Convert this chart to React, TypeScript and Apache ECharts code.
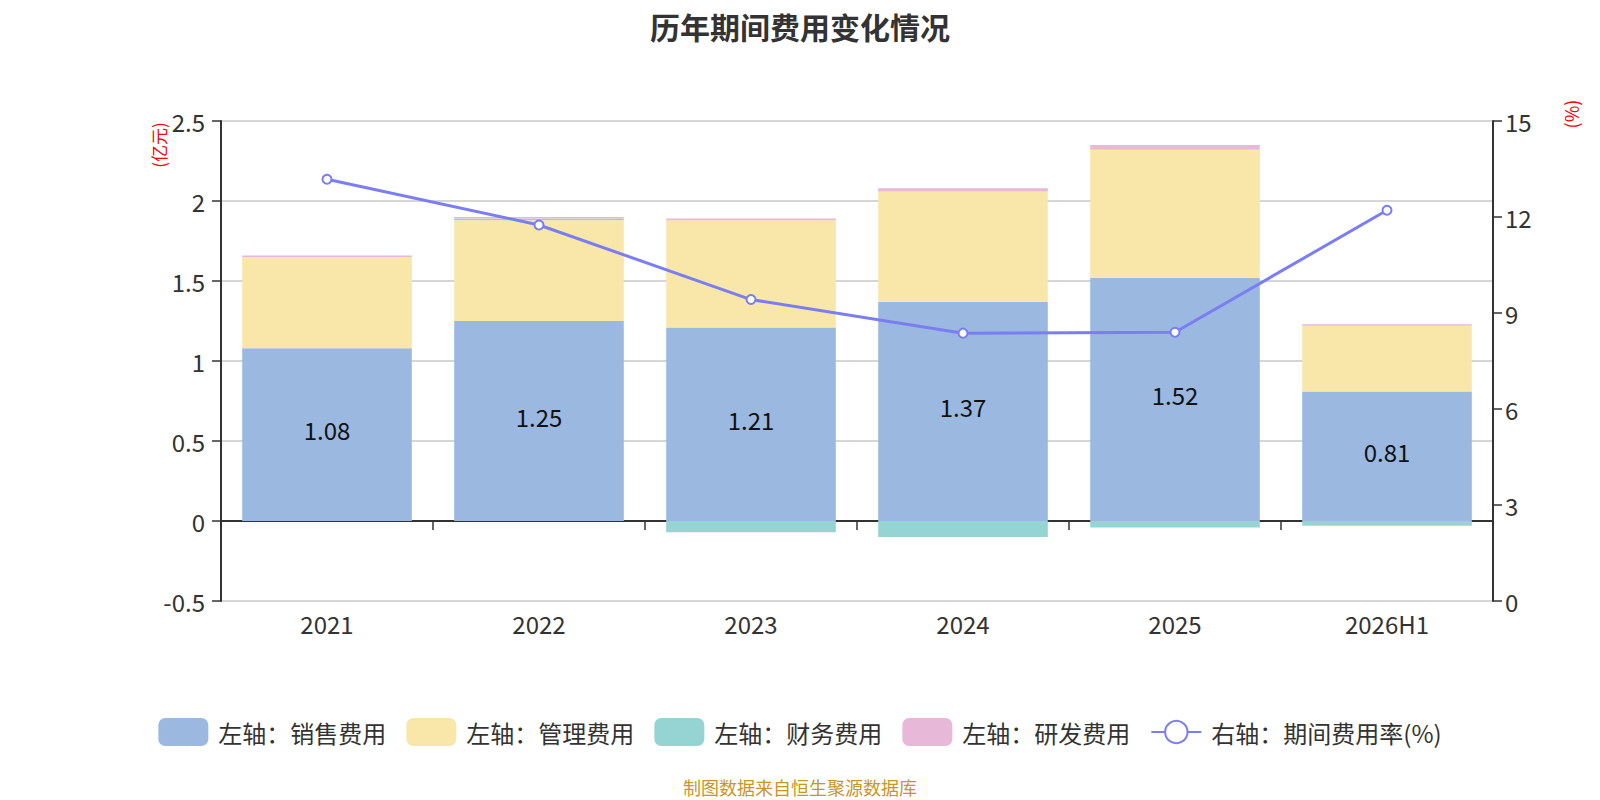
import React, { useEffect, useRef } from "react";
import * as echarts from "echarts";

const categories = ["2021", "2022", "2023", "2024", "2025", "2026H1"];
const salesExp = [1.08, 1.25, 1.21, 1.37, 1.52, 0.81];
const mgmtExp = [0.57, 0.63, 0.67, 0.69, 0.8, 0.41];
const finExp = [0.0, 0.01, -0.07, -0.1, -0.04, -0.03];
const rdExp = [0.01, 0.01, 0.01, 0.02, 0.03, 0.01];
const expenseRate = [13.18, 11.75, 9.42, 8.37, 8.4, 12.21];

const FONT = '"Noto Sans CJK SC", "Noto Sans", sans-serif';

export default function App() {
  const ref = useRef<HTMLDivElement>(null);
  useEffect(() => {
    document.body.style.margin = "0";
    if (!ref.current) return;
    const chart = echarts.init(ref.current, undefined, { renderer: "svg" });
    const barLabel = {
      show: true,
      position: "inside",
      offset: [0, -5],
      color: "#111",
      fontSize: 24,
      fontFamily: FONT,
    };
    chart.setOption({
      animation: false,
      textStyle: { fontFamily: FONT },
      title: {
        text: "历年期间费用变化情况",
        left: "center",
        top: 6,
        textStyle: { fontSize: 30, fontWeight: "bold", color: "#333", fontFamily: FONT },
      },
      grid: { left: 221, right: 107, top: 121, bottom: 199 },
      legend: {
        bottom: 49,
        left: "center",
        itemWidth: 50,
        itemHeight: 28,
        itemGap: 20,
        textStyle: { fontSize: 24, color: "#333", fontFamily: FONT, padding: [0, 0, 0, 5] },
        data: [
          "左轴：销售费用",
          "左轴：管理费用",
          "左轴：财务费用",
          "左轴：研发费用",
          "右轴：期间费用率(%)",
        ],
      },
      graphic: [
        {
          type: "text",
          x: 158,
          y: 145,
          rotation: Math.PI / 2,
          style: {
            text: "(亿元)",
            fill: "#ff0000",
            fontSize: 17,
            fontFamily: FONT,
            align: "center",
            verticalAlign: "middle",
          },
        },
        {
          type: "text",
          x: 1571,
          y: 114,
          rotation: Math.PI / 2,
          style: {
            text: "(%)",
            fill: "#ff0000",
            fontSize: 18,
            fontFamily: FONT,
            align: "center",
            verticalAlign: "middle",
          },
        },
        {
          type: "text",
          left: "center",
          top: 778,
          style: {
            text: "制图数据来自恒生聚源数据库",
            fill: "#C8952B",
            fontSize: 18,
            fontFamily: FONT,
          },
        },
      ],
      xAxis: [
        {
          type: "category",
          data: categories,
          position: "bottom",
          axisLine: { show: false, onZero: false },
          axisTick: { show: false },
          axisLabel: { fontSize: 24, color: "#333", margin: 10, fontFamily: FONT },
        },
        {
          type: "category",
          data: categories,
          position: "bottom",
          axisLine: { show: true, onZero: true, lineStyle: { color: "#333", width: 2 } },
          axisTick: { show: true, length: 9, lineStyle: { color: "#333", width: 1.5 } },
          axisLabel: { show: false },
        },
      ],
      yAxis: [
        {
          type: "value",
          min: -0.5,
          max: 2.5,
          interval: 0.5,
          axisLine: { show: true, lineStyle: { color: "#333", width: 2 } },
          axisTick: { show: true, length: 9, lineStyle: { color: "#333", width: 1.5 } },
          axisLabel: { fontSize: 24, color: "#333", margin: 16, fontFamily: FONT },
          splitLine: { show: true, lineStyle: { color: "#c8c8c8", width: 1.5 } },
        },
        {
          type: "value",
          min: 0,
          max: 15,
          interval: 3,
          position: "right",
          axisLine: { show: true, lineStyle: { color: "#333", width: 2 } },
          axisTick: { show: true, length: 9, lineStyle: { color: "#333", width: 1.5 } },
          axisLabel: { fontSize: 24, color: "#333", margin: 12, fontFamily: FONT },
          splitLine: { show: false },
        },
      ],
      series: [
        {
          name: "左轴：销售费用",
          type: "bar",
          stack: "exp",
          barWidth: "80%",
          data: salesExp,
          itemStyle: { color: "#9BB8E1" },
          label: barLabel,
        },
        {
          name: "左轴：管理费用",
          type: "bar",
          stack: "exp",
          data: mgmtExp,
          itemStyle: { color: "#F8E7A9" },
        },
        {
          name: "左轴：财务费用",
          type: "bar",
          stack: "exp",
          data: finExp,
          itemStyle: { color: "#96D4D4" },
        },
        {
          name: "左轴：研发费用",
          type: "bar",
          stack: "exp",
          data: rdExp,
          itemStyle: { color: "#E8B8D8" },
        },
        {
          name: "右轴：期间费用率(%)",
          type: "line",
          yAxisIndex: 1,
          data: expenseRate,
          symbol: "emptyCircle",
          symbolSize: 9,
          itemStyle: { color: "#7B7EF2", borderWidth: 1.5 },
          lineStyle: { color: "#7B7EF2", width: 3 },
          z: 10,
        },
      ],
    });
    return () => chart.dispose();
  }, []);
  return <div ref={ref} style={{ width: 1600, height: 800 }} />;
}
